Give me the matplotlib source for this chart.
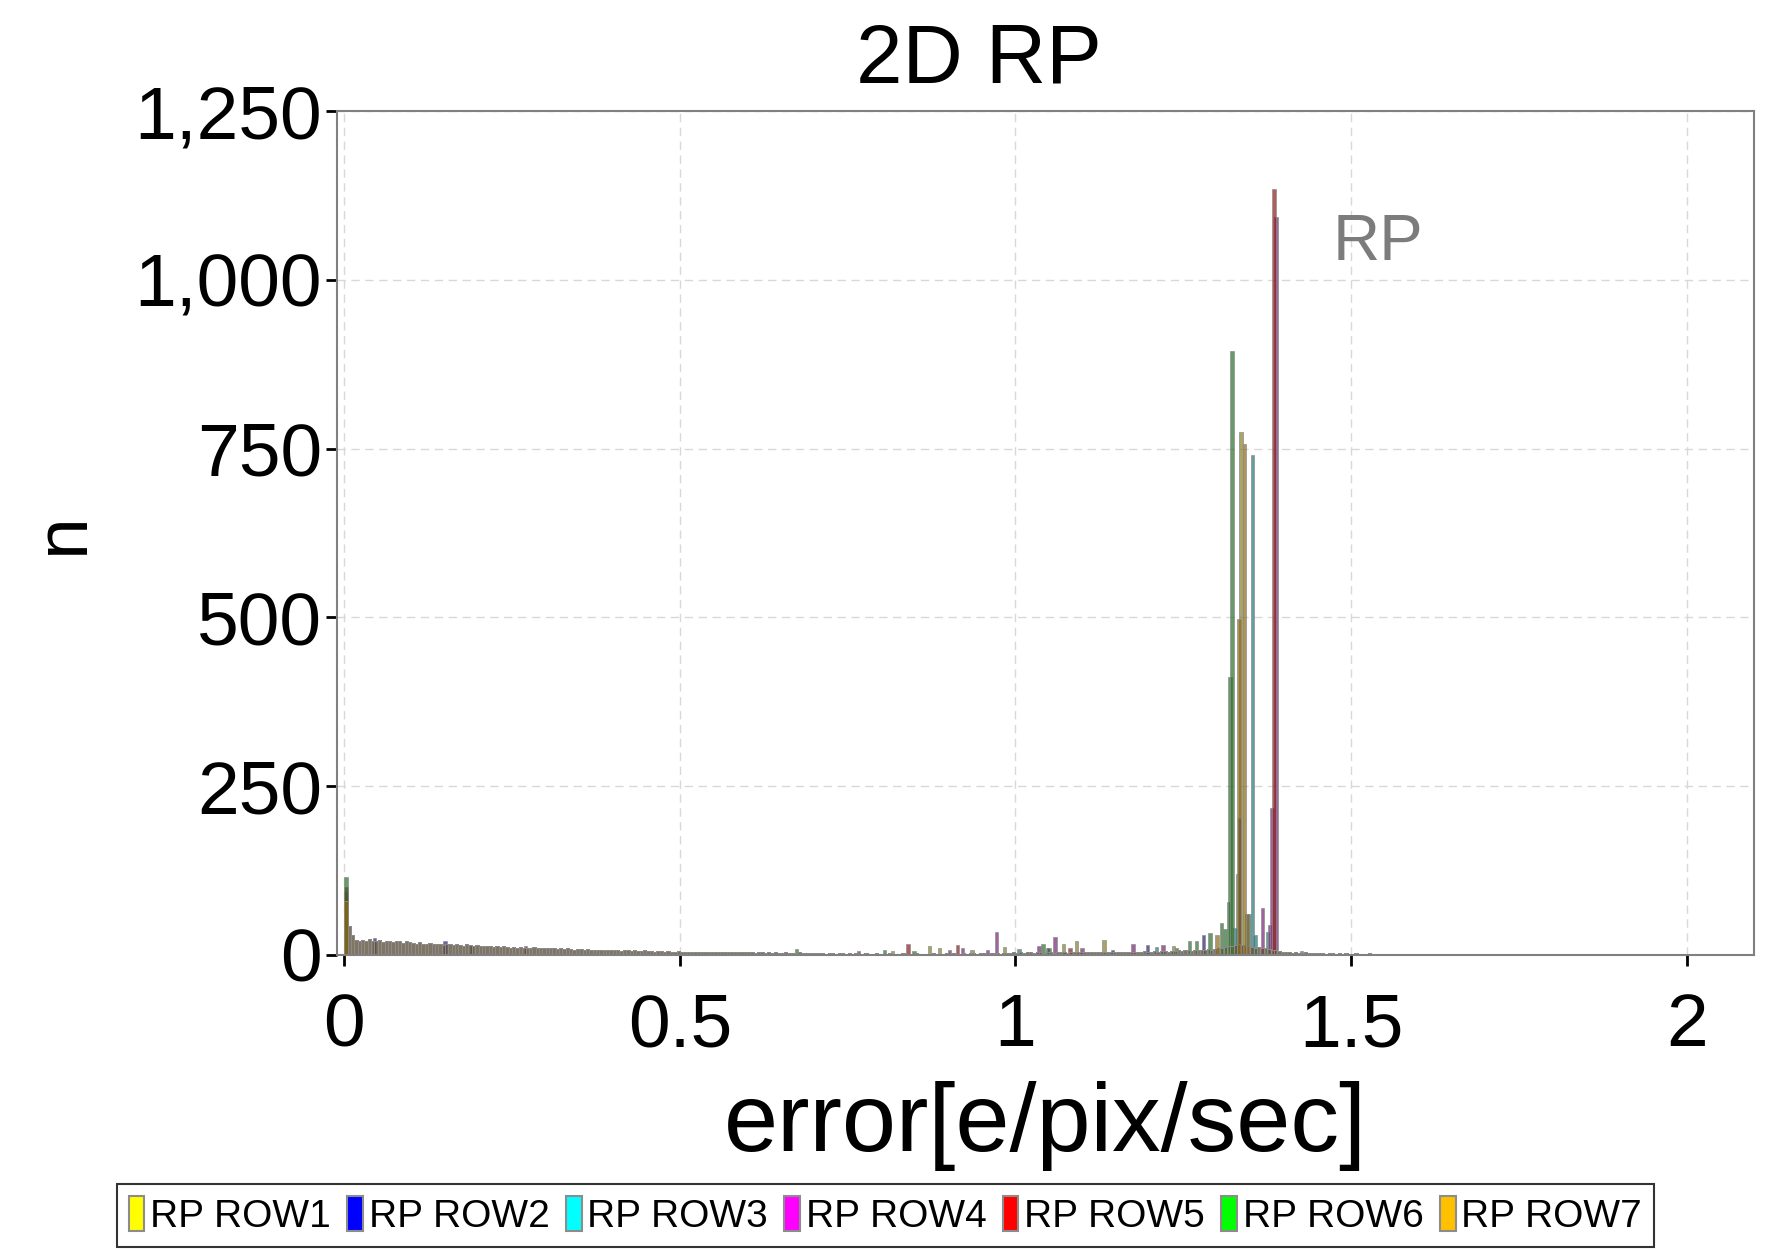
import numpy as np
import matplotlib
matplotlib.use("Agg")
import matplotlib.pyplot as plt
from matplotlib.patches import Patch
from matplotlib.colors import to_rgba
from matplotlib.ticker import FuncFormatter

plt.rcParams['font.family'] = ['Liberation Sans', 'DejaVu Sans']

# shared low-level background, counts per 0.005 bin from 0 to 2.1
bin_width = 0.005
base_counts = [
    80, 43, 30, 22, 21, 22, 20, 23, 21, 20, 22, 19, 21, 20, 19, 21, 20, 18, 20, 19,
    18, 17, 19, 17, 16, 18, 17, 16, 17, 15, 16, 17, 15, 16, 15, 14, 16, 15, 14, 15,
    14, 13, 14, 13, 12, 13, 12, 13, 12, 11, 12, 11, 12, 11, 10, 11, 12, 10, 11, 10,
    10, 11, 10, 9, 10, 9, 10, 9, 8, 9, 9, 8, 9, 8, 8, 7, 8, 8, 7, 8,
    7, 7, 6, 7, 7, 6, 7, 6, 6, 7, 6, 6, 5, 6, 6, 5, 6, 5, 5, 6,
    5, 5, 5, 4, 5, 5, 4, 5, 4, 5, 4, 4, 5, 4, 4, 4, 5, 4, 4, 4,
    4, 4, 3, 4, 4, 3, 4, 3, 4, 3, 3, 4, 3, 3, 3, 4, 3, 3, 3, 3,
    3, 3, 3, 2, 3, 3, 2, 3, 3, 2, 3, 2, 3, 2, 2, 3, 2, 2, 3, 2,
    2, 2, 3, 2, 2, 2, 3, 2, 2, 2, 3, 2, 2, 2, 2, 3, 2, 2, 2, 3,
    2, 3, 2, 2, 3, 2, 3, 3, 2, 3, 3, 2, 3, 3, 3, 2, 3, 3, 3, 4,
    3, 4, 3, 4, 4, 3, 4, 4, 3, 4, 4, 3, 4, 4, 4, 3, 4, 4, 4, 5,
    4, 4, 5, 4, 4, 5, 4, 5, 4, 5, 5, 4, 5, 5, 4, 5, 5, 5, 6, 5,
    5, 6, 5, 6, 6, 5, 6, 6, 7, 6, 7, 7, 6, 7, 8, 7, 8, 9, 8, 9,
    10, 11, 12, 13, 14, 15, 16, 15, 14, 13, 12, 11, 12, 11, 10, 9, 8, 7, 6, 5,
    4, 4, 3, 4, 3, 3, 4, 3, 3, 3, 3, 3, 2, 3, 3, 2, 3, 2, 3, 2,
    2, 3, 2, 2, 2, 3, 2, 2, 2, 2, 2, 2, 2, 2, 2, 1, 2, 2, 2, 1,
    2, 1, 2, 2, 1, 2, 1, 2, 1, 1, 2, 1, 1, 2, 1, 1, 1, 2, 1, 1,
    1, 1, 1, 2, 1, 1, 1, 1, 1, 1, 1, 1, 1, 1, 1, 1, 1, 1, 1, 1,
    1, 1, 1, 1, 1, 1, 0, 1, 1, 1, 1, 0, 1, 1, 1, 1, 1, 0, 1, 1,
    1, 0, 1, 1, 0, 1, 1, 0, 1, 0, 1, 1, 0, 1, 0, 1, 0, 1, 0, 1,
    0, 1, 0, 0, 1, 0, 0, 1, 0, 0, 0, 1, 0, 0, 0, 0, 1, 0, 0, 0,
]

# row-specific bins (bin centre, count)
row1_x = [0.0025, 0.817, 0.872, 0.887, 0.935, 0.984, 1.072, 1.091, 1.132, 1.235, 1.331, 1.336]
row1_n = [81, 6, 14, 11, 8, 12, 17, 20, 22, 13, 120, 775]
row2_x = [0.0025, 0.045, 0.150, 0.190, 1.048, 1.145, 1.197, 1.280, 1.3335]
row2_n = [85, 25, 21, 14, 10, 8, 15, 29, 203]
row3_x = [1.005, 1.210, 1.327, 1.345, 1.349, 1.353, 1.357, 1.375, 1.426]
row3_n = [9, 12, 40, 61, 61, 741, 30, 34, 6]
row4_x = [0.0025, 0.270, 0.766, 0.902, 0.921, 0.958, 0.972, 1.035, 1.059, 1.099,
          1.175, 1.220, 1.368, 1.378, 1.382, 1.388]
row4_n = [93, 13, 6, 8, 10, 7, 34, 13, 26, 11, 17, 15, 70, 45, 217, 1093]
row5_x = [0.0025, 0.840, 0.914, 1.081, 1.385]
row5_n = [101, 16, 15, 10, 1135]
row6_x = [0.0025, 0.674, 0.805, 0.849, 1.041, 1.050, 1.240, 1.259, 1.270, 1.290,
          1.307, 1.312, 1.317, 1.3195, 1.3225]
row6_n = [116, 9, 7, 6, 17, 10, 11, 20, 21, 32, 47, 39, 78, 411, 894]
row7_x = [0.0025, 1.300, 1.333, 1.341, 1.346]
row7_n = [80, 30, 498, 757, 60]

row_labels = ['RP ROW1', 'RP ROW2', 'RP ROW3', 'RP ROW4', 'RP ROW5', 'RP ROW6', 'RP ROW7']
legend_colors = ['#ffff00', '#0000ff', '#00ffff', '#ff00ff', '#ff0000', '#00ff00', '#ffc000']
bar_colors = ['#857e22', '#222285', '#227777', '#772277', '#8d1a1a', '#297029', '#8d6913']

rows_x = [row1_x, row2_x, row3_x, row4_x, row5_x, row6_x, row7_x]
rows_n = [row1_n, row2_n, row3_n, row4_n, row5_n, row6_n, row7_n]

fig = plt.figure(figsize=(17.71, 12.5), dpi=100)
ax = fig.add_axes([0.19046, 0.236, 0.79983, 0.6752])

edges = np.arange(len(base_counts)) * bin_width
for i in range(7):
    ax.bar(edges, base_counts, width=bin_width, align='edge',
           facecolor=to_rgba(bar_colors[i], 0.2), edgecolor='#8c8c8c',
           linewidth=0.7, zorder=2)
    ax.bar(rows_x[i], rows_n[i], width=bin_width, align='center',
           facecolor=to_rgba(bar_colors[i], 0.7), edgecolor=to_rgba('#8c8c8c', 0.8),
           linewidth=0.6, zorder=2)

ax.set_xlim(-0.0104, 2.1)
ax.set_ylim(0, 1250)
ax.set_xticks([0, 0.5, 1, 1.5, 2])
ax.set_yticks([0, 250, 500, 750, 1000, 1250])
ax.xaxis.set_major_formatter(FuncFormatter(lambda v, p: '%g' % v))
ax.yaxis.set_major_formatter(FuncFormatter(lambda v, p: '{:,}'.format(int(v))))
ax.tick_params(axis='both', direction='out', length=8, width=2, color='black',
               labelsize=54)
ax.tick_params(axis='x', pad=19)
ax.tick_params(axis='y', pad=3)
ax.grid(True, color='#d8d8d8', linestyle=(0, (6, 4)), linewidth=1.0, zorder=0)
ax.set_axisbelow(True)
for s in ax.spines.values():
    s.set_color('#808080')
    s.set_linewidth(1.5)

ax.set_xlabel('error[e/pix/sec]', fontsize=70, labelpad=14)
ax.set_ylabel('n', fontsize=54, labelpad=26)
fig.text(0.553, 0.934, '2D RP', fontsize=60, ha='center', va='baseline')
ax.text(1.473, 1029, 'RP', fontsize=47, color='#7c7c7c', va='baseline')

handles = [Patch(facecolor=c, edgecolor='#8c8c8c', linewidth=1.5) for c in legend_colors]
leg = fig.legend(handles, row_labels, loc='center', bbox_to_anchor=(0.5, 0.0276), ncol=7,
                 fontsize=28, frameon=True, fancybox=False, edgecolor='black',
                 handlelength=0.4, handleheight=1.0, handletextpad=0.15,
                 columnspacing=0.42, borderpad=0.3, borderaxespad=0)
leg.get_frame().set_linewidth(1.5)

fig.savefig('out.png', dpi=100)
